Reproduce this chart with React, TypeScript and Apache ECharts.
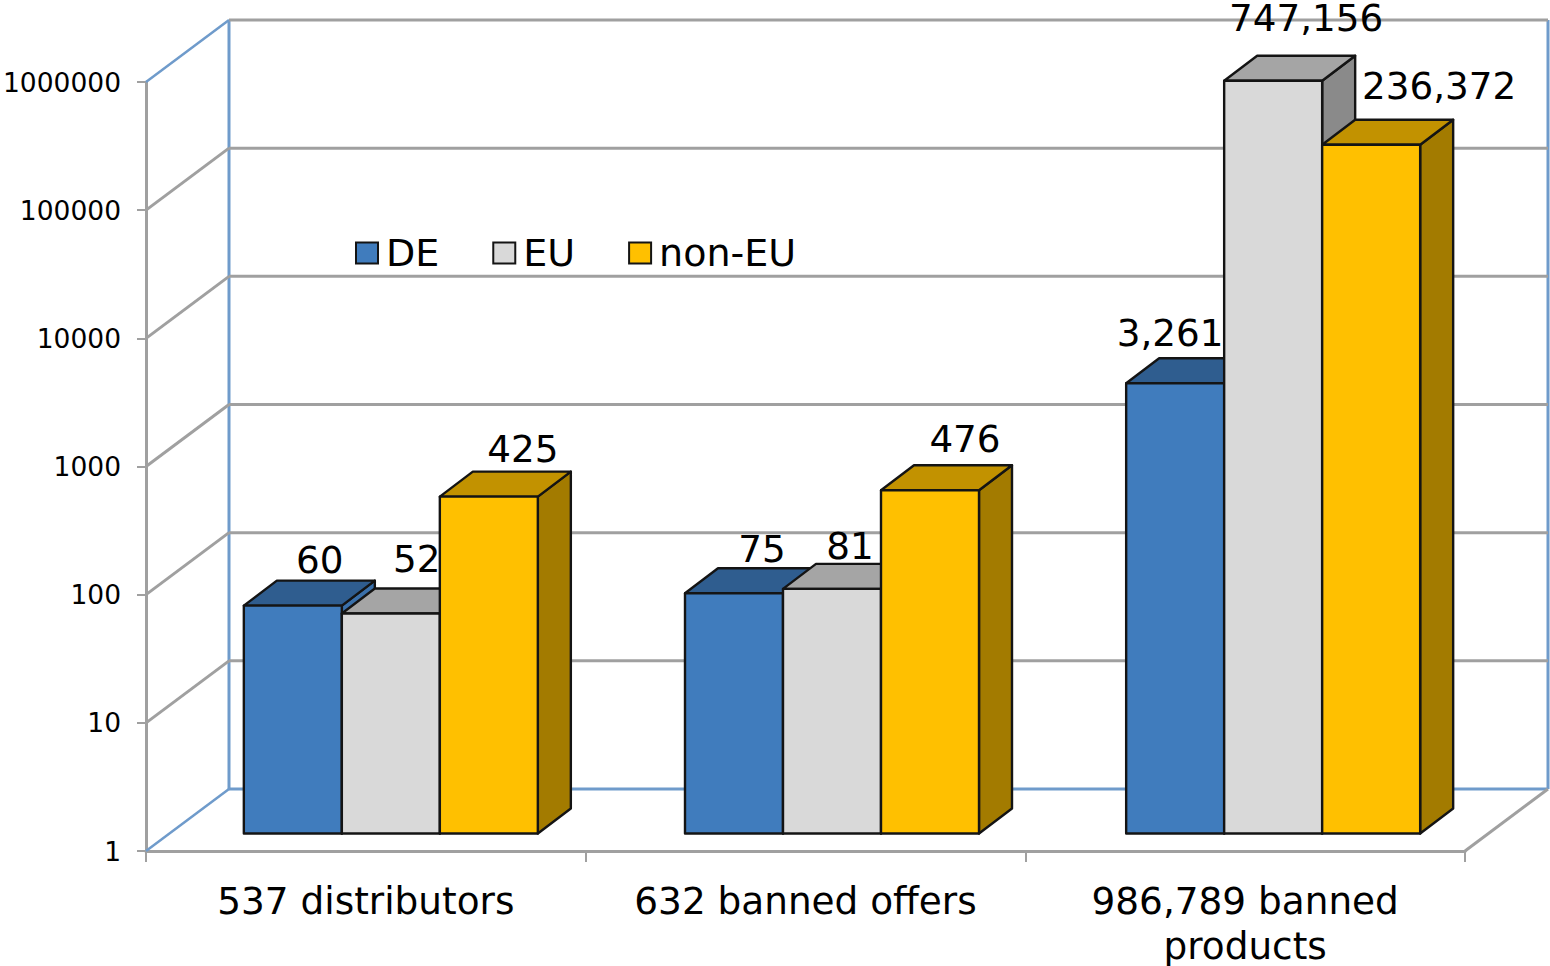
import React, { useEffect, useRef } from "react";
import * as echarts from "echarts";

const categories = ["537 distributors", "632 banned offers", "986,789 banned\nproducts"];
const tickValues = [1, 10, 100, 1000, 10000, 100000, 1000000];
const seriesNames = ["DE", "EU", "non-EU"];
const deValues = [60, 75, 3261];
const euValues = [52, 81, 747156];
const nonEuValues = [425, 476, 236372];

const FONT = '"DejaVu Sans", Verdana, sans-serif';
const GREY = "#a0a0a0";
const BLUE = "#6f9bcb";
const WALL_DX = 83;
const WALL_DY = 62;
const BAR_W = 98;
const DEPTH_DX = 33;
const DEPTH_DY = 25;
const FLOOR_DX = 25;
const FLOOR_DY = 17.5;
const EDGE = "#141414";
// hand placement of the value labels, relative to each bar's front-top centre
const labelShift = [
  [[27, -46], [26, -55], [34, -48]],
  [[28, -44], [18, -43], [35, -51]],
  [[-5, -50], [33, -63], [68, -59]],
];
const groupShift = [0, 1.5, 3];
const palette = [
  { front: "#407cbd", top: "#2f5d8f", side: "#3a70aa" },
  { front: "#d9d9d9", top: "#a5a5a5", side: "#8a8a8a" },
  { front: "#ffc000", top: "#c29200", side: "#a37b00" },
];

function frameItem(params: any, api: any) {
  const tick = api.value(1);
  const cs = params.coordSys;
  const y = api.coord([0, tick])[1];
  const x0 = cs.x;
  const x1 = cs.x + WALL_DX;
  const x2 = cs.x + cs.width + WALL_DX;
  const isFloor = tick === tickValues[0];
  const isTop = tick === tickValues[tickValues.length - 1];
  const line = (a: number, b: number, c: number, d: number, color: string, w = 3) => ({
    type: "line",
    shape: { x1: a, y1: b, x2: c, y2: d },
    style: { stroke: color, lineWidth: w },
    silent: true,
  });
  const children: any[] = [
    line(x1, y - WALL_DY, x2, y - WALL_DY, isFloor ? BLUE : GREY),
    line(x0, y, x1, y - WALL_DY, isFloor || isTop ? BLUE : GREY, isFloor || isTop ? 2.5 : 3),
  ];
  if (isFloor) {
    const topY = api.coord([0, tickValues[tickValues.length - 1]])[1] - WALL_DY;
    children.push(line(x1, y - WALL_DY, x1, topY, BLUE));
    children.push(line(x2, y - WALL_DY, x2, topY, BLUE));
    children.push(line(x0 + cs.width, y, x2, y - WALL_DY, GREY));
  }
  return { type: "group", children };
}

function barRenderer(sIdx: number) {
  return (params: any, api: any) => {
    const cat = api.value(0);
    const val = api.value(1);
    const [cx, yTop0] = api.coord([cat, val]);
    const yBase0 = api.coord([cat, tickValues[0]])[1];
    const c = palette[sIdx];
    const xl = cx + FLOOR_DX + groupShift[cat] + (sIdx - 1.5) * BAR_W;
    const xr = xl + BAR_W;
    const yt = yTop0 - FLOOR_DY;
    const yb = yBase0 - FLOOR_DY;
    const style = (fill: string) => ({ fill, stroke: EDGE, lineWidth: 2.4, lineJoin: "round" });
    const poly = (points: number[][], fill: string) => ({
      type: "polygon",
      shape: { points },
      style: style(fill),
    });
    const [lx, ly] = labelShift[cat][sIdx];
    return {
      type: "group",
      children: [
        poly([[xr, yt], [xr + DEPTH_DX, yt - DEPTH_DY], [xr + DEPTH_DX, yb - DEPTH_DY], [xr, yb]], c.side),
        poly([[xl, yt], [xl + DEPTH_DX, yt - DEPTH_DY], [xr + DEPTH_DX, yt - DEPTH_DY], [xr, yt]], c.top),
        { type: "rect", shape: { x: xl, y: yt, width: BAR_W, height: yb - yt }, style: style(c.front) },
        {
          type: "text",
          z2: 10,
          style: {
            x: xl + BAR_W / 2 + lx,
            y: yt + ly,
            text: Number(val).toLocaleString("en-US"),
            align: "center",
            verticalAlign: "middle",
            font: `37.3px ${FONT}`,
            fill: "#000",
          },
        },
      ],
    };
  };
}

export default function App() {
  const ref = useRef<HTMLDivElement>(null);
  useEffect(() => {
    document.body.style.margin = "0";
    const chart = echarts.init(ref.current!, undefined, { renderer: "svg" });
    const values = [deValues, euValues, nonEuValues];
    chart.setOption({
      animation: false,
      backgroundColor: "#fff",
      grid: { left: 146, right: 85, top: 82, bottom: 115, containLabel: false, outerBoundsMode: "none" },
      legend: {
        data: seriesNames,
        left: 350,
        top: 229,
        itemWidth: 22,
        itemHeight: 21,
        itemGap: 53,
        icon: "rect",
        itemStyle: { borderColor: EDGE, borderWidth: 2 },
        textStyle: { fontFamily: FONT, fontSize: 38, color: "#000", padding: [0, 0, 0, 3] },
      },
      xAxis: {
        type: "category",
        data: categories,
        boundaryGap: true,
        axisLine: { lineStyle: { color: GREY, width: 3 } },
        axisTick: { show: true, length: 11, lineStyle: { color: GREY, width: 2 } },
        axisLabel: {
          interval: 0,
          margin: 27,
          fontFamily: FONT,
          fontSize: 37.4,
          lineHeight: 45,
          color: "#000",
          verticalAlign: "top",
        },
      },
      yAxis: {
        type: "log",
        logBase: 10,
        min: 1,
        max: 1000000,
        axisLine: { show: true, lineStyle: { color: GREY, width: 3 } },
        axisTick: { show: true, length: 9, lineStyle: { color: GREY, width: 2 } },
        splitLine: { show: false },
        minorTick: { show: false },
        axisLabel: {
          margin: 25,
          fontFamily: FONT,
          fontSize: 26.5,
          color: "#000",
          formatter: (v: number) => String(Math.round(v)),
        },
      },
      series: [
        {
          type: "custom",
          name: "frame",
          silent: true,
          renderItem: frameItem,
          data: tickValues.map((t) => [0, t]),
          encode: { x: 0, y: 1 },
        },
        ...seriesNames.map((name, i) => ({
          type: "custom",
          name,
          renderItem: barRenderer(i),
          itemStyle: { color: palette[i].front },
          data: values[i].map((v, c) => [c, v]),
          encode: { x: 0, y: 1 },
        })),
      ],
    });
    return () => chart.dispose();
  }, []);
  return <div ref={ref} style={{ width: 1550, height: 966 }} />;
}
